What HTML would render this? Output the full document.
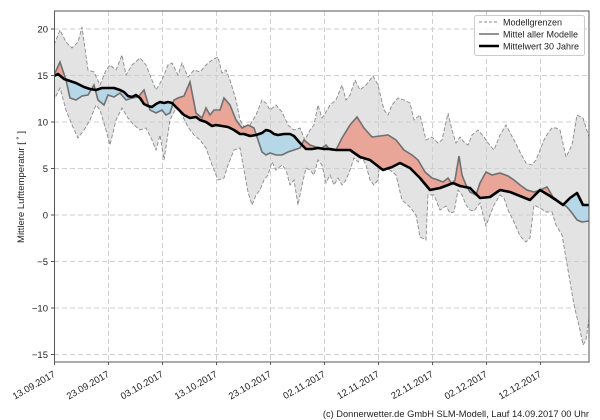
<!DOCTYPE html>
<html><head><meta charset="utf-8"><style>
html,body{margin:0;padding:0;background:#fff;}
svg{display:block;font-family:"Liberation Sans","DejaVu Sans",sans-serif;}
</style></head><body>
<svg width="600" height="420" viewBox="0 0 600 420" xmlns="http://www.w3.org/2000/svg">
<defs>
<clipPath id="plot"><rect x="54.5" y="11" width="534.5" height="351"/></clipPath>
<clipPath id="above"><polygon points="54,0 54,76 58,74 64,79 70,81 76,83 80,85 84,87 90,89 96,90 102,88 108,88 114,88 120,90 124,92 128,96 132,97 136,95 140,98 144,104 148,106 152,107 156,104 160,102 164,103 168,102 172,103 176,107 180,111 184,115 190,118 196,117 200,120 206,122 212,126 216,125 222,126 228,127 234,130 240,134 244,134 250,136 256,135 262,133 266,130 270,131 274,134 278,135 284,134 290,134 294,136 300,143 306,149 312,149 318,148 324,149 330,149 336,150 342,150 350,150 360,157 370,160 383,170 392,167 400,163 410,168 420,178 430,190 440,188 448,185 453,183 460,186 470,188 480,198 490,197 500,190 510,192 520,196 530,200 540,190 550,196 556,200 563,205 570,198 577,193 583,205 590,205 590,0"/></clipPath>
<clipPath id="below"><polygon points="54,420 54,76 58,74 64,79 70,81 76,83 80,85 84,87 90,89 96,90 102,88 108,88 114,88 120,90 124,92 128,96 132,97 136,95 140,98 144,104 148,106 152,107 156,104 160,102 164,103 168,102 172,103 176,107 180,111 184,115 190,118 196,117 200,120 206,122 212,126 216,125 222,126 228,127 234,130 240,134 244,134 250,136 256,135 262,133 266,130 270,131 274,134 278,135 284,134 290,134 294,136 300,143 306,149 312,149 318,148 324,149 330,149 336,150 342,150 350,150 360,157 370,160 383,170 392,167 400,163 410,168 420,178 430,190 440,188 448,185 453,183 460,186 470,188 480,198 490,197 500,190 510,192 520,196 530,200 540,190 550,196 556,200 563,205 570,198 577,193 583,205 590,205 590,420"/></clipPath>
</defs>
<g clip-path="url(#plot)">
<polygon fill="#e3e3e3" stroke="none" points="54,45 60,30 66,42 72,48 78,42 82,27 88,70 94,72 100,85 106,70 110,65 116,70 122,55 126,75 132,65 140,58 146,65 152,80 156,90 162,80 168,65 172,63 178,75 182,63 188,77 194,70 200,72 206,65 212,60 218,57 222,73 226,70 230,80 236,100 240,120 246,130 250,125 256,115 262,100 266,103 270,110 276,105 282,112 288,125 294,130 300,128 305,140 310,130 314,125 318,105 322,118 326,112 330,105 336,100 342,85 346,100 350,95 355,80 360,90 366,85 373,76 378,85 384,110 388,115 392,105 398,98 404,100 410,103 414,120 420,115 426,140 432,137 438,143 442,140 448,113 452,130 456,143 460,137 464,142 468,145 472,135 478,130 484,137 488,143 494,150 500,135 506,125 514,140 520,152 526,163 532,165 536,160 540,150 544,140 548,133 552,128 556,128 560,130 566,157 572,145 577,115 583,118 589,137 589,318 586,340 583,345 580,330 574,305 568,270 562,235 556,225 552,212 546,212 540,208 534,205 530,238 526,242 520,236 514,222 508,210 504,198 500,195 494,205 490,215 486,226 480,203 474,211 470,210 466,205 462,195 458,190 454,212 450,213 446,206 440,210 434,195 428,195 426,240 420,237 416,215 410,207 402,200 396,175 390,170 384,168 380,158 378,180 374,185 370,180 366,165 362,157 358,162 354,158 350,170 346,180 342,185 338,178 334,185 330,175 326,183 322,165 318,160 314,175 310,170 306,168 302,185 298,205 294,180 290,185 286,170 282,165 276,170 272,162 268,175 264,180 260,190 256,195 252,205 248,192 244,170 240,148 234,150 228,165 224,178 218,180 212,165 206,148 200,140 194,135 188,127 182,115 176,108 170,120 164,160 160,135 156,150 152,140 146,128 140,130 134,125 128,118 122,108 116,120 110,145 106,130 100,110 96,105 90,120 84,130 78,138 72,125 66,110 60,88 54,100"/>
<g stroke="#cfcfcf" stroke-width="1" stroke-dasharray="5,3">
<line x1="54" x2="589" y1="29" y2="29"/><line x1="54" x2="589" y1="75.5" y2="75.5"/><line x1="54" x2="589" y1="122" y2="122"/><line x1="54" x2="589" y1="168.5" y2="168.5"/><line x1="54" x2="589" y1="215" y2="215"/><line x1="54" x2="589" y1="261.5" y2="261.5"/><line x1="54" x2="589" y1="308" y2="308"/><line x1="54" x2="589" y1="354.5" y2="354.5"/>
<line y1="11" y2="362" x1="108.5" x2="108.5"/><line y1="11" y2="362" x1="162.5" x2="162.5"/><line y1="11" y2="362" x1="216.5" x2="216.5"/><line y1="11" y2="362" x1="270.5" x2="270.5"/><line y1="11" y2="362" x1="324.5" x2="324.5"/><line y1="11" y2="362" x1="378.5" x2="378.5"/><line y1="11" y2="362" x1="432.5" x2="432.5"/><line y1="11" y2="362" x1="486.5" x2="486.5"/><line y1="11" y2="362" x1="540.5" x2="540.5"/>
</g>
<g fill="none" stroke="#8a8a8a" stroke-width="0.9" stroke-dasharray="4,2">
<polyline points="54,45 60,30 66,42 72,48 78,42 82,27 88,70 94,72 100,85 106,70 110,65 116,70 122,55 126,75 132,65 140,58 146,65 152,80 156,90 162,80 168,65 172,63 178,75 182,63 188,77 194,70 200,72 206,65 212,60 218,57 222,73 226,70 230,80 236,100 240,120 246,130 250,125 256,115 262,100 266,103 270,110 276,105 282,112 288,125 294,130 300,128 305,140 310,130 314,125 318,105 322,118 326,112 330,105 336,100 342,85 346,100 350,95 355,80 360,90 366,85 373,76 378,85 384,110 388,115 392,105 398,98 404,100 410,103 414,120 420,115 426,140 432,137 438,143 442,140 448,113 452,130 456,143 460,137 464,142 468,145 472,135 478,130 484,137 488,143 494,150 500,135 506,125 514,140 520,152 526,163 532,165 536,160 540,150 544,140 548,133 552,128 556,128 560,130 566,157 572,145 577,115 583,118 589,137"/>
<polyline points="589,318 586,340 583,345 580,330 574,305 568,270 562,235 556,225 552,212 546,212 540,208 534,205 530,238 526,242 520,236 514,222 508,210 504,198 500,195 494,205 490,215 486,226 480,203 474,211 470,210 466,205 462,195 458,190 454,212 450,213 446,206 440,210 434,195 428,195 426,240 420,237 416,215 410,207 402,200 396,175 390,170 384,168 380,158 378,180 374,185 370,180 366,165 362,157 358,162 354,158 350,170 346,180 342,185 338,178 334,185 330,175 326,183 322,165 318,160 314,175 310,170 306,168 302,185 298,205 294,180 290,185 286,170 282,165 276,170 272,162 268,175 264,180 260,190 256,195 252,205 248,192 244,170 240,148 234,150 228,165 224,178 218,180 212,165 206,148 200,140 194,135 188,127 182,115 176,108 170,120 164,160 160,135 156,150 152,140 146,128 140,130 134,125 128,118 122,108 116,120 110,145 106,130 100,110 96,105 90,120 84,130 78,138 72,125 66,110 60,88 54,100"/>
</g>
<polygon fill="#e9a698" clip-path="url(#above)" points="54,75 60,62 66,80 70,98 76,100 82,96 88,95 94,85 98,100 104,105 108,95 114,97 120,93 126,100 132,98 138,97 144,90 150,110 156,113 162,110 166,115 170,113 174,100 178,98 184,96 190,82 196,113 202,118 206,108 210,115 214,110 220,110 224,98 230,105 236,120 242,128 248,125 254,128 258,140 262,152 266,155 270,153 276,155 282,155 288,152 294,150 300,148 304,140 310,145 316,147 322,148 326,145 330,150 336,150 342,138 350,125 357,117 364,128 372,137 380,136 388,135 396,140 404,150 412,155 418,160 425,172 432,178 438,180 443,182 448,178 452,184 455,180 459,156 462,175 466,185 470,192 476,195 480,183 486,172 492,175 500,173 508,176 514,180 520,185 527,190 534,192 540,190 547,187 553,197 560,202 567,207 572,213 577,220 582,222 589,221 589,205 583,205 577,193 570,198 563,205 556,200 550,196 540,190 530,200 520,196 510,192 500,190 490,197 480,198 470,188 460,186 453,183 448,185 440,188 430,190 420,178 410,168 400,163 392,167 383,170 370,160 360,157 350,150 342,150 336,150 330,149 324,149 318,148 312,149 306,149 300,143 294,136 290,134 284,134 278,135 274,134 270,131 266,130 262,133 256,135 250,136 244,134 240,134 234,130 228,127 222,126 216,125 212,126 206,122 200,120 196,117 190,118 184,115 180,111 176,107 172,103 168,102 164,103 160,102 156,104 152,107 148,106 144,104 140,98 136,95 132,97 128,96 124,92 120,90 114,88 108,88 102,88 96,90 90,89 84,87 80,85 76,83 70,81 64,79 58,74 54,76"/>
<polygon fill="#b6d7e7" clip-path="url(#below)" points="54,75 60,62 66,80 70,98 76,100 82,96 88,95 94,85 98,100 104,105 108,95 114,97 120,93 126,100 132,98 138,97 144,90 150,110 156,113 162,110 166,115 170,113 174,100 178,98 184,96 190,82 196,113 202,118 206,108 210,115 214,110 220,110 224,98 230,105 236,120 242,128 248,125 254,128 258,140 262,152 266,155 270,153 276,155 282,155 288,152 294,150 300,148 304,140 310,145 316,147 322,148 326,145 330,150 336,150 342,138 350,125 357,117 364,128 372,137 380,136 388,135 396,140 404,150 412,155 418,160 425,172 432,178 438,180 443,182 448,178 452,184 455,180 459,156 462,175 466,185 470,192 476,195 480,183 486,172 492,175 500,173 508,176 514,180 520,185 527,190 534,192 540,190 547,187 553,197 560,202 567,207 572,213 577,220 582,222 589,221 589,205 583,205 577,193 570,198 563,205 556,200 550,196 540,190 530,200 520,196 510,192 500,190 490,197 480,198 470,188 460,186 453,183 448,185 440,188 430,190 420,178 410,168 400,163 392,167 383,170 370,160 360,157 350,150 342,150 336,150 330,149 324,149 318,148 312,149 306,149 300,143 294,136 290,134 284,134 278,135 274,134 270,131 266,130 262,133 256,135 250,136 244,134 240,134 234,130 228,127 222,126 216,125 212,126 206,122 200,120 196,117 190,118 184,115 180,111 176,107 172,103 168,102 164,103 160,102 156,104 152,107 148,106 144,104 140,98 136,95 132,97 128,96 124,92 120,90 114,88 108,88 102,88 96,90 90,89 84,87 80,85 76,83 70,81 64,79 58,74 54,76"/>
<polyline fill="none" stroke="#707070" stroke-width="1.6" points="54,75 60,62 66,80 70,98 76,100 82,96 88,95 94,85 98,100 104,105 108,95 114,97 120,93 126,100 132,98 138,97 144,90 150,110 156,113 162,110 166,115 170,113 174,100 178,98 184,96 190,82 196,113 202,118 206,108 210,115 214,110 220,110 224,98 230,105 236,120 242,128 248,125 254,128 258,140 262,152 266,155 270,153 276,155 282,155 288,152 294,150 300,148 304,140 310,145 316,147 322,148 326,145 330,150 336,150 342,138 350,125 357,117 364,128 372,137 380,136 388,135 396,140 404,150 412,155 418,160 425,172 432,178 438,180 443,182 448,178 452,184 455,180 459,156 462,175 466,185 470,192 476,195 480,183 486,172 492,175 500,173 508,176 514,180 520,185 527,190 534,192 540,190 547,187 553,197 560,202 567,207 572,213 577,220 582,222 589,221"/>
<polyline fill="none" stroke="#000" stroke-width="2.6" stroke-linejoin="round" points="54,76 58,74 64,79 70,81 76,83 80,85 84,87 90,89 96,90 102,88 108,88 114,88 120,90 124,92 128,96 132,97 136,95 140,98 144,104 148,106 152,107 156,104 160,102 164,103 168,102 172,103 176,107 180,111 184,115 190,118 196,117 200,120 206,122 212,126 216,125 222,126 228,127 234,130 240,134 244,134 250,136 256,135 262,133 266,130 270,131 274,134 278,135 284,134 290,134 294,136 300,143 306,149 312,149 318,148 324,149 330,149 336,150 342,150 350,150 360,157 370,160 383,170 392,167 400,163 410,168 420,178 430,190 440,188 448,185 453,183 460,186 470,188 480,198 490,197 500,190 510,192 520,196 530,200 540,190 550,196 556,200 563,205 570,198 577,193 583,205 589,205"/>
</g>
<rect x="54.5" y="11" width="534.5" height="351" fill="none" stroke="#555" stroke-width="1"/>
<g font-size="9.5" fill="#222" text-anchor="end">
<text x="48" y="32.5">20</text><text x="48" y="79">15</text><text x="48" y="125.5">10</text><text x="48" y="172">5</text><text x="48" y="218.5">0</text><text x="48" y="265">−5</text><text x="48" y="311.5">−10</text><text x="48" y="358">−15</text>
</g>
<g stroke="#555"><line x1="51" x2="54.5" y1="29" y2="29"/><line x1="51" x2="54.5" y1="75.5" y2="75.5"/><line x1="51" x2="54.5" y1="122" y2="122"/><line x1="51" x2="54.5" y1="168.5" y2="168.5"/><line x1="51" x2="54.5" y1="215" y2="215"/><line x1="51" x2="54.5" y1="261.5" y2="261.5"/><line x1="51" x2="54.5" y1="308" y2="308"/><line x1="51" x2="54.5" y1="354.5" y2="354.5"/>
<line x1="54.5" x2="54.5" y1="362" y2="365"/><line x1="108.5" x2="108.5" y1="362" y2="365"/><line x1="162.5" x2="162.5" y1="362" y2="365"/><line x1="216.5" x2="216.5" y1="362" y2="365"/><line x1="270.5" x2="270.5" y1="362" y2="365"/><line x1="324.5" x2="324.5" y1="362" y2="365"/><line x1="378.5" x2="378.5" y1="362" y2="365"/><line x1="432.5" x2="432.5" y1="362" y2="365"/><line x1="486.5" x2="486.5" y1="362" y2="365"/><line x1="540.5" x2="540.5" y1="362" y2="365"/></g>
<text x="24" y="187" font-size="9.5" fill="#222" text-anchor="middle" transform="rotate(-90 24 187)">Mittlere Lufttemperatur [ ˚ ]</text>
<g font-size="9.5" fill="#222" text-anchor="end">
<text transform="translate(56,376) rotate(-30)">13.09.2017</text>
<text transform="translate(110,376) rotate(-30)">23.09.2017</text>
<text transform="translate(164,376) rotate(-30)">03.10.2017</text>
<text transform="translate(218,376) rotate(-30)">13.10.2017</text>
<text transform="translate(272,376) rotate(-30)">23.10.2017</text>
<text transform="translate(326,376) rotate(-30)">02.11.2017</text>
<text transform="translate(380,376) rotate(-30)">12.11.2017</text>
<text transform="translate(434,376) rotate(-30)">22.11.2017</text>
<text transform="translate(488,376) rotate(-30)">02.12.2017</text>
<text transform="translate(542,376) rotate(-30)">12.12.2017</text>
</g>
<text x="589" y="417" font-size="9.3" fill="#222" text-anchor="end">(c) Donnerwetter.de GmbH SLM-Modell, Lauf 14.09.2017 00 Uhr</text>
<rect x="474.5" y="15.5" width="110" height="40" rx="2" fill="#fff" fill-opacity="0.85" stroke="#ccc"/>
<g font-size="9" fill="#222">
<line x1="479" x2="499" y1="22" y2="22" stroke="#8a8a8a" stroke-dasharray="3,2"/><text x="503" y="25.5">Modellgrenzen</text>
<line x1="479" x2="499" y1="34" y2="34" stroke="#707070" stroke-width="1.6"/><text x="503" y="37.5">Mittel aller Modelle</text>
<line x1="479" x2="499" y1="46" y2="46" stroke="#000" stroke-width="2.6"/><text x="503" y="49.5">Mittelwert 30 Jahre</text>
</g>
</svg>
</body></html>
